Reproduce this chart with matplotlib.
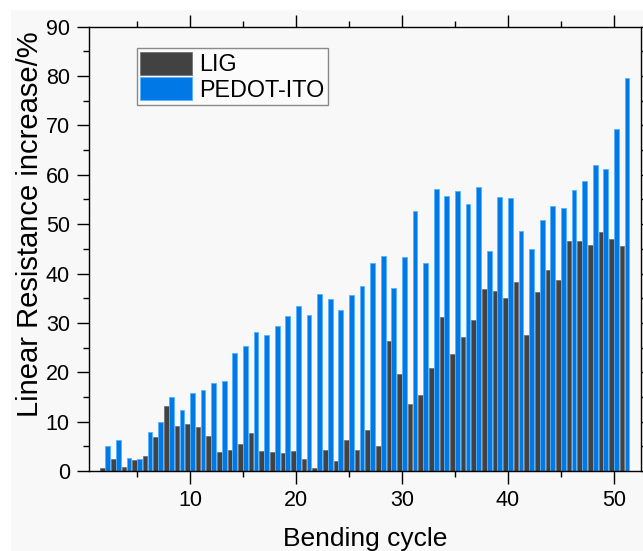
import matplotlib
matplotlib.use("Agg")
import matplotlib.pyplot as plt
from matplotlib.patches import Rectangle
from matplotlib.ticker import MultipleLocator
import numpy as np

plt.rcParams['font.family'] = ['Liberation Sans', 'DejaVu Sans']

cycles = list(range(2, 52))
lig = [0.7, 2.4, 0.9, 2.2, 3.0, 6.9, 13.2, 9.1, 9.6, 9.0,
       7.0, 3.8, 4.2, 5.5, 7.6, 4.1, 3.9, 3.6, 4.1, 2.4,
       0.7, 4.3, 2.1, 6.2, 4.3, 8.4, 5.1, 26.3, 19.7, 13.6,
       15.3, 20.9, 31.1, 23.8, 27.2, 30.6, 36.9, 36.4, 35.0, 38.2,
       27.6, 36.3, 40.7, 38.6, 46.5, 46.5, 45.7, 48.4, 47.0, 45.6]
pedot = [5.1, 6.3, 2.6, 2.4, 7.8, 9.9, 15.0, 12.4, 15.9, 16.5,
         17.8, 18.2, 24.0, 25.4, 28.1, 27.6, 29.4, 31.4, 33.4, 31.7,
         35.9, 34.9, 32.6, 35.7, 37.4, 42.2, 43.6, 37.0, 43.4, 52.6,
         42.1, 57.1, 55.8, 56.7, 54.0, 57.5, 44.5, 55.5, 55.3, 48.7,
         45.0, 50.9, 53.6, 53.2, 56.9, 58.7, 61.9, 61.2, 69.2, 79.6]
series_names = ["LIG", "PEDOT-ITO"]

W, H = 643, 551
fig = plt.figure(figsize=(W / 100, H / 100), dpi=100, facecolor='white')
fig.patches.append(Rectangle((11 / W, 0), 1, 1 - 10 / H, transform=fig.transFigure,
                             facecolor='#f8f8f8', edgecolor='none', zorder=-10))
ax = fig.add_axes([89.3 / W, 1 - 471 / H, (641 - 89.3) / W, (471 - 26.7) / H])
ax.set_facecolor('#f8f8f8')

x = np.array(cycles)
bw = 0.44
ax.bar(x - 0.23, lig, width=bw, color='#424242', edgecolor='#6a6a6a', linewidth=0.5,
       label=series_names[0])
ax.bar(x + 0.23, pedot, width=bw, color='#0078E6', edgecolor='#55b4ff', linewidth=0.6,
       label=series_names[1])

ax.set_xlim(0.5, 52.55)
ax.set_ylim(0, 90)
ax.xaxis.set_major_locator(MultipleLocator(10))
ax.xaxis.set_minor_locator(MultipleLocator(5))
ax.yaxis.set_major_locator(MultipleLocator(10))
ax.yaxis.set_minor_locator(MultipleLocator(5))
ax.set_xticks([10, 20, 30, 40, 50])

ax.tick_params(which='both', direction='out', top=True, right=True,
               labeltop=False, labelright=False, width=1.0, color='black')
ax.tick_params(which='major', length=9, labelsize=15.5, pad=5)
ax.tick_params(which='minor', length=4.5)
for s in ax.spines.values():
    s.set_linewidth(1.0)
    s.set_color('black')

ax.set_xlabel("Bending cycle", fontsize=19)
ax.xaxis.set_label_coords(0.5, -0.126)
ax.set_ylabel("Linear Resistance increase/%", fontsize=21)
ax.yaxis.set_label_coords(-0.083, 0.555)

leg = ax.legend(loc='upper left', bbox_to_anchor=(0.086, 0.951), borderaxespad=0,
                fontsize=16.8, handlelength=2.23, handleheight=1.12, labelspacing=0.05,
                borderpad=0.15, handletextpad=0.31, fancybox=False, framealpha=1,
                facecolor='#fbfbfb', edgecolor='#8a8a8a')
leg.get_frame().set_linewidth(1.0)

fig.savefig("out.png", dpi=100, facecolor=fig.get_facecolor())
